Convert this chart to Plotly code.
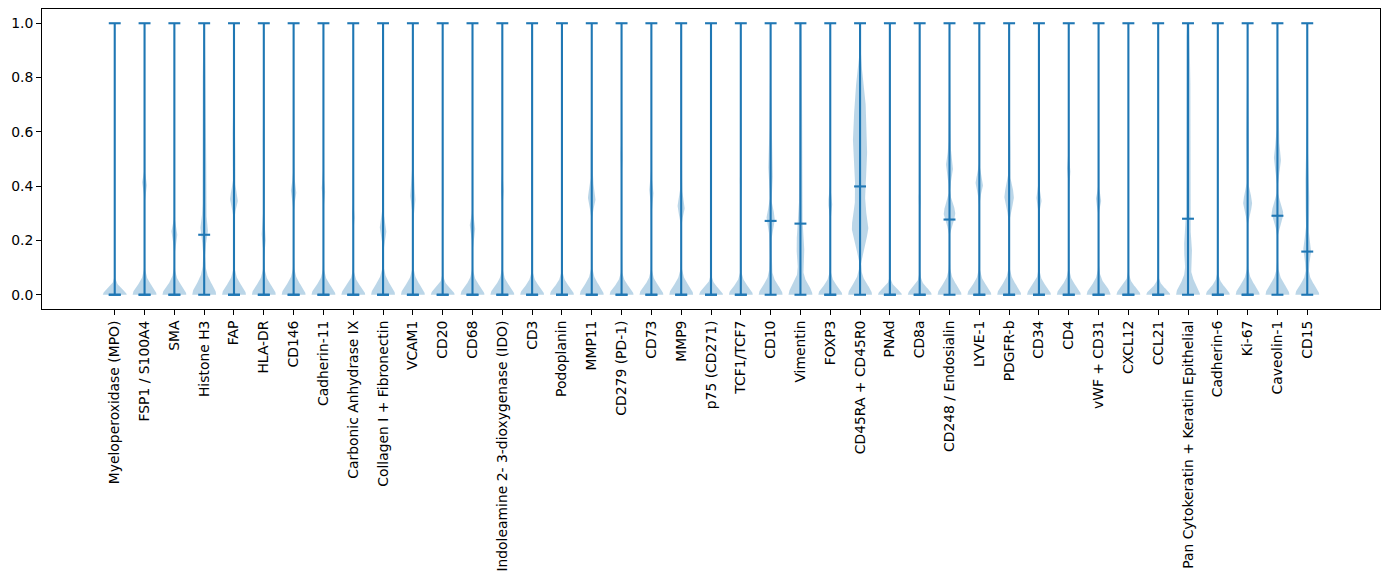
import numpy as np
import plotly.graph_objects as go

categories = [
    "Myeloperoxidase (MPO)", "FSP1 / S100A4", "SMA", "Histone H3", "FAP", "HLA-DR",
    "CD146", "Cadherin-11", "Carbonic Anhydrase IX", "Collagen I + Fibronectin", "VCAM1",
    "CD20", "CD68", "Indoleamine 2- 3-dioxygenase (IDO)", "CD3", "Podoplanin", "MMP11",
    "CD279 (PD-1)", "CD73", "MMP9", "p75 (CD271)", "TCF1/TCF7", "CD10", "Vimentin", "FOXP3",
    "CD45RA + CD45R0", "PNAd", "CD8a", "CD248 / Endosialin", "LYVE-1", "PDGFR-b", "CD34",
    "CD4", "vWF + CD31", "CXCL12", "CCL21", "Pan Cytokeratin + Keratin Epithelial",
    "Cadherin-6", "Ki-67", "Caveolin-1", "CD15",
]

mins = [0.0] * 41
maxs = [1.0] * 41

medians = [0, 0, 0, 0.221, 0, 0, 0, 0, 0, 0, 0,
           0, 0, 0, 0, 0, 0, 0, 0, 0, 0, 0, 0.272, 0.262, 0,
           0.399, 0, 0, 0.277, 0, 0, 0, 0, 0, 0, 0, 0.280,
           0, 0, 0.291, 0.159]

# spread of the density mass piled at zero, per marker
zero_spread = [0.022, 0.034, 0.034, 0.041, 0.036, 0.036, 0.036, 0.034, 0.032, 0.038, 0.036,
               0.025, 0.033, 0.033, 0.031, 0.031, 0.036, 0.031, 0.033, 0.036, 0.025, 0.031,
               0.036, 0.038, 0.031, 0.038, 0.022, 0.026, 0.036, 0.034, 0.036, 0.032, 0.033,
               0.034, 0.028, 0.023, 0.040, 0.028, 0.036, 0.038, 0.036]

# secondary density modes: (centre, relative width, spread)
modes = [
    [(0.41, 0.05, 0.03)],
    [(0.41, 0.20, 0.025)],
    [(0.227, 0.25, 0.028)],
    [(0.24, 0.22, 0.035), (0.55, 0.19, 0.28)],
    [(0.352, 0.31, 0.032), (0.55, 0.12, 0.1)],
    [(0.215, 0.17, 0.03), (0.48, 0.10, 0.13)],
    [(0.38, 0.22, 0.03), (0.55, 0.07, 0.08)],
    [(0.387, 0.15, 0.025)],
    [(0.29, 0.12, 0.02)],
    [(0.24, 0.28, 0.03), (0.4, 0.09, 0.06)],
    [(0.356, 0.20, 0.03), (0.45, 0.07, 0.06)],
    [(0.34, 0.07, 0.03)],
    [(0.25, 0.23, 0.03)],
    [(0.39, 0.12, 0.025)],
    [(0.42, 0.09, 0.02)],
    [(0.39, 0.09, 0.025)],
    [(0.356, 0.29, 0.033), (0.5, 0.10, 0.09)],
    [(0.51, 0.09, 0.025)],
    [(0.38, 0.18, 0.028)],
    [(0.325, 0.29, 0.032), (0.48, 0.09, 0.07)],
    [],
    [(0.417, 0.09, 0.022)],
    [(0.28, 0.34, 0.035), (0.45, 0.16, 0.05), (0.6, 0.10, 0.1), (0.15, 0.09, 0.05)],
    [(0.18, 0.26, 0.06), (0.6, 0.15, 0.4)],
    [(0.34, 0.17, 0.025)],
    [(0.245, 0.6, 0.045), (0.17, 0.15, 0.03), (0.34, 0.15, 0.04), (0.55, 0.6, 0.15),
     (0.75, 0.15, 0.06)],
    [],
    [(0.35, 0.09, 0.02)],
    [(0.30, 0.48, 0.035), (0.47, 0.28, 0.04), (0.65, 0.10, 0.09)],
    [(0.41, 0.31, 0.032)],
    [(0.36, 0.39, 0.04), (0.55, 0.10, 0.08)],
    [(0.35, 0.22, 0.025)],
    [(0.46, 0.14, 0.025)],
    [(0.35, 0.22, 0.025)],
    [(0.37, 0.06, 0.025)],
    [],
    [(0.17, 0.22, 0.045), (0.5, 0.2, 0.4), (0.85, 0.08, 0.1)],
    [(0.5, 0.05, 0.08)],
    [(0.337, 0.36, 0.035), (0.55, 0.12, 0.1)],
    [(0.30, 0.48, 0.035), (0.5, 0.28, 0.045), (0.7, 0.10, 0.1)],
    [(0.165, 0.31, 0.04), (0.38, 0.17, 0.1)],
]

C0 = "#1f77b4"
WIDTH = 0.8
positions = list(range(1, len(categories) + 1))

fig = go.Figure()

for i, pos in enumerate(positions):
    yy = np.linspace(mins[i], maxs[i], 400)
    zs = zero_spread[i]
    dens = (0.5 * np.exp(-0.5 * (yy / (0.8 * zs)) ** 2)
            + 0.5 * np.exp(-0.5 * (yy / (1.3 * zs)) ** 2))
    for c, w, s in modes[i]:
        dens = dens + w * np.exp(-0.5 * ((yy - c) / s) ** 2)
    half = dens / dens.max() * WIDTH / 2
    xs = np.concatenate([pos - half, (pos + half)[::-1]])
    ys = np.concatenate([yy, yy[::-1]])
    fig.add_trace(go.Scatter(x=xs, y=ys, mode="lines", fill="toself",
                             fillcolor="rgba(31,119,180,0.3)",
                             line=dict(width=0, color="rgba(31,119,180,0)"),
                             hoverinfo="skip", showlegend=False))

lx, ly = [], []
cap = WIDTH / 4
for i, pos in enumerate(positions):
    lx += [pos, pos, None]
    ly += [mins[i], maxs[i], None]
    for v in (mins[i], maxs[i], medians[i]):
        lx += [pos - cap, pos + cap, None]
        ly += [v, v, None]
fig.add_trace(go.Scatter(x=lx, y=ly, mode="lines", line=dict(color=C0, width=2.1),
                         hoverinfo="skip", showlegend=False))

font = dict(family="DejaVu Sans", size=13.9, color="black")
# page body has an 8px default margin; figure is sized/offset to compensate
fig.update_layout(
    width=1381, height=576,
    margin=dict(l=34, r=9, t=1, b=275, autoexpand=False),
    plot_bgcolor="white", paper_bgcolor="white",
    font=font, showlegend=False,
)
fig.update_xaxes(range=[-1.44, 43.44], tickvals=positions, ticktext=categories,
                 tickangle=-90, ticks="outside", ticklen=5, tickwidth=1, tickcolor="black",
                 showline=True, linecolor="black", linewidth=1, mirror=True,
                 showgrid=False, zeroline=False, tickfont=font, automargin=False)
fig.update_yaxes(range=[-0.0525, 1.0525], tickvals=[0, 0.2, 0.4, 0.6, 0.8, 1.0],
                 ticktext=["0.0", "0.2", "0.4", "0.6", "0.8", "1.0"],
                 ticks="outside", ticklen=5, tickwidth=1, tickcolor="black",
                 showline=True, linecolor="black", linewidth=1, mirror=True,
                 showgrid=False, zeroline=False, tickfont=font, automargin=False)

fig.write_html("out.html")
